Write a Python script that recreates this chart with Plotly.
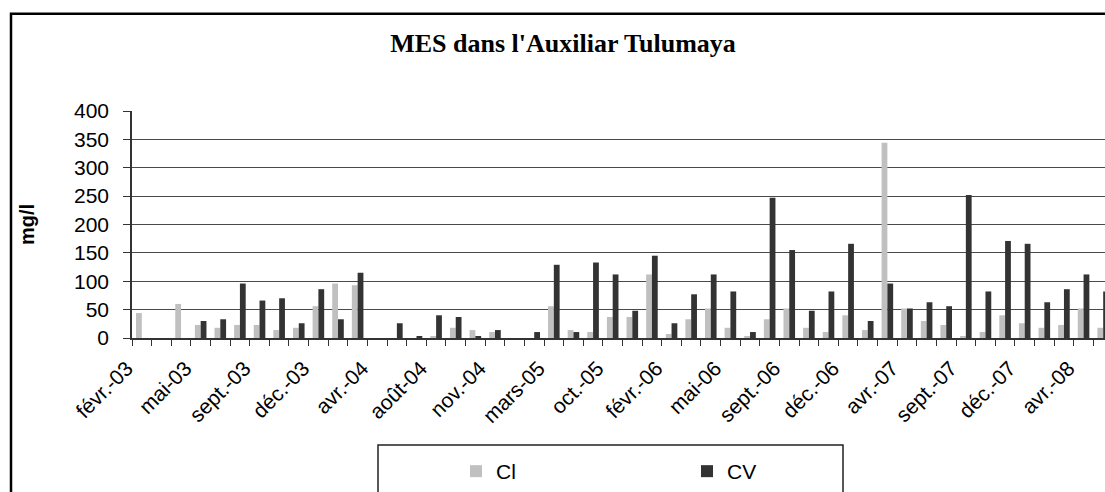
import plotly.graph_objects as go

# Sampling campaigns (one bar pair per campaign), labelled every third campaign
tick_labels = ["févr.-03", "mai-03", "sept.-03", "déc.-03", "avr.-04", "août-04",
               "nov.-04", "mars-05", "oct.-05", "févr.-06", "mai-06", "sept.-06",
               "déc.-06", "avr.-07", "sept.-07", "déc.-07", "avr.-08"]
label_step = 3

# Suspended solids (mg/l)
cl = [44, 0, 60, 23, 18, 23, 23, 14, 18, 56, 96, 93, 0, 0, 0, 3.5, 18, 14, 10.5, 0,
      0, 56, 14, 10.5, 37, 37, 112, 7, 33, 52, 18, 3.5, 33, 52, 18, 10.5, 40, 14, 344, 52,
      30, 23, 3.5, 10.5, 40, 26, 18, 23, 52, 18]
cv = [0, 0, 0, 30, 33, 96, 66, 70, 26, 86, 33, 115, 0, 26, 3.5, 40, 37, 3.5, 14, 0,
      10.5, 129, 10.5, 133, 112, 48, 145, 26, 77, 112, 82, 10.5, 247, 155, 48, 82, 166, 30, 96, 52,
      63, 56, 252, 82, 171, 166, 63, 86, 112, 82]

W, H = 1105, 492
ML, MR, MT, MB = 132, 0, 111, 152
CAT_W = 19.62  # pixel width of one campaign slot

x = list(range(len(cl)))


def px_x(p):
    return (p - ML) / (W - ML - MR)


def px_y(p):
    return (H - MB - p) / (H - MT - MB)


fig = go.Figure()
fig.add_trace(go.Bar(x=x, y=cl, name="Cl", marker=dict(color="#C0C0C0", line=dict(width=0))))
fig.add_trace(go.Bar(x=x, y=cv, name="CV", marker=dict(color="#333333", line=dict(width=0))))

font = "Liberation Sans, Arial, sans-serif"

fig.update_layout(
    width=W, height=H,
    margin=dict(l=ML, r=MR, t=MT, b=MB, pad=0),
    paper_bgcolor="white", plot_bgcolor="white",
    barmode="group", bargap=0.41, bargroupgap=0,
    font=dict(family=font, size=21, color="black"),
    title=dict(text="<b>MES dans l'Auxiliar Tulumaya</b>",
               font=dict(family="Liberation Serif, Times New Roman, serif", size=26, color="black"),
               x=563 / W, xanchor="center", xref="container",
               y=1 - 43 / H, yanchor="middle", yref="container"),
    showlegend=True,
    legend=dict(orientation="h", x=px_x(456), xanchor="left", y=px_y(454), yanchor="top",
                entrywidth=186, entrywidthmode="pixels", traceorder="normal",
                font=dict(size=21), bgcolor="rgba(0,0,0,0)", borderwidth=0),
)

fig.update_xaxes(
    range=[-0.5, -0.5 + (W - ML - MR) / CAT_W],
    tickmode="array",
    tickvals=list(range(0, len(cl), label_step)),
    ticktext=tick_labels,
    tickangle=-45, ticks="", ticklabelstandoff=8, ticklabelshift=-15,
    minor=dict(ticks="outside", tick0=-0.5, dtick=1, ticklen=6, tickcolor="#333", tickwidth=1),
    showgrid=False, zeroline=False,
    showline=True, linecolor="#333", linewidth=1.5,
    tickfont=dict(size=21),
)

fig.update_yaxes(
    range=[0, 400], dtick=50,
    showgrid=True, gridcolor="#4a4a4a", gridwidth=1,
    zeroline=False,
    showline=True, linecolor="#333", linewidth=1.5,
    ticks="outside", ticklen=7, tickcolor="#333", ticklabelstandoff=10,
    tickfont=dict(size=21),
    title=dict(text="<b>mg/l</b>", font=dict(size=20), standoff=34),
)

# Chart frame and legend frame
fig.add_shape(type="rect", xref="paper", yref="paper",
              x0=px_x(11), x1=px_x(W + 20), y0=px_y(H + 20), y1=px_y(13),
              line=dict(color="black", width=2.5), fillcolor="rgba(0,0,0,0)", layer="above")
fig.add_shape(type="rect", xref="paper", yref="paper",
              x0=px_x(378), x1=px_x(843), y0=px_y(H + 20), y1=px_y(448),
              line=dict(color="#222", width=1.5), fillcolor="rgba(0,0,0,0)", layer="above")

fig.write_html("out.html")
